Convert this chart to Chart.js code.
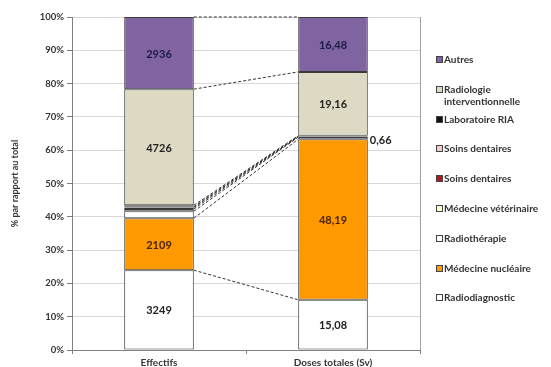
<!DOCTYPE html>
<html lang="fr">
<head>
<meta charset="utf-8">
<script src="https://cdn.jsdelivr.net/npm/chart.js@4/dist/chart.umd.min.js"></script>
<style>
  html, body { margin: 0; padding: 0; background: #fff; overflow: hidden; }
  #wrap { position: relative; width: 551px; height: 375px; }
  #legend { position: absolute; left: 0; top: 0; width: 551px; height: 367px; pointer-events: none;
            font-family: Lato, "Open Sans", sans-serif; font-weight: bold; font-size: 10px; color: #333; }
  .item { position: absolute; left: 436px; width: 112px; line-height: 12px; }
  .box { position: absolute; left: 0; top: 3px; width: 5px; height: 5px; border: 1px solid #444; }
  .txt { position: absolute; left: 8px; width: 105px; white-space: normal; }
</style>
</head>
<body>
<div id="wrap">
  <canvas id="c" width="551" height="375"></canvas>
  <div id="legend"></div>
</div>
<script>
// Categories (two stacked bars) and series, listed from the bottom of each stack upward
const categories = ['Effectifs', 'Doses totales (Sv)'];
const seriesNames = [
  'Radiodiagnostic', 'Médecine nucléaire', 'Radiothérapie', 'Médecine vétérinaire',
  'Soins dentaires', 'Soins dentaires', 'Laboratoire RIA',
  'Radiologie interventionnelle', 'Autres'
];
const seriesColors = [
  '#FFFFFF', '#FF9900', '#FFFFFF', '#FFFFCC',
  '#B0181F', '#F4CCCC', '#111111',
  '#DDD9C3', '#8064A2'
];
// Workers per sector
const effectifs = [3249, 2109, 289, 90, 60, 30, 60, 4726, 2936];
// Total doses per sector (Sv)
const dosesTotales = [15.08, 48.19, 0.66, 0.05, 0.15, 0.12, 0.10, 19.16, 16.48];
// Percent axis ticks
const yTicks = [0, 10, 20, 30, 40, 50, 60, 70, 80, 90, 100];

// Which values get a label inside the bar / beside it
const labelInside = [
  [true, true, false, false, false, false, false, true, true],
  [true, true, false, false, false, false, false, true, true]
];
const labelBeside = [
  [false, false, false, false, false, false, false, false, false],
  [false, false, true, false, false, false, false, false, false]
];
const labelColors = ['#222', '#4a2200', '#222', '#222', '#222', '#222', '#222', '#222', '#1d1a45'];

const sumOf = arr => arr.reduce((a, b) => a + b, 0);
const totEff = sumOf(effectifs);
const totDose = sumOf(dosesTotales);
const rawValues = [effectifs, dosesTotales];

const datasets = seriesNames.map((name, i) => ({
  label: name,
  data: [effectifs[i] / totEff * 100, dosesTotales[i] / totDose * 100],
  backgroundColor: seriesColors[i],
  borderColor: '#3a3a3a',
  borderWidth: 1,
  borderSkipped: false,
  barPercentage: 0.4,
  categoryPercentage: 1.0
}));

const fmt = v => (Number.isInteger(v) ? String(v) : v.toFixed(2).replace('.', ','));

// Dashed series lines joining each segment top from one bar to the next
const seriesLines = {
  id: 'seriesLines',
  afterDatasetsDraw(chart) {
    const ctx = chart.ctx;
    ctx.save();
    ctx.strokeStyle = '#333';
    ctx.lineWidth = 1;
    ctx.setLineDash([3, 2]);
    chart.data.datasets.forEach((ds, i) => {
      const meta = chart.getDatasetMeta(i);
      const a = meta.data[0], b = meta.data[1];
      ctx.beginPath();
      ctx.moveTo(a.x + a.width / 2, a.y);
      ctx.lineTo(b.x - b.width / 2, b.y);
      ctx.stroke();
    });
    ctx.restore();
  }
};

// Right-hand frame line of the plot area
const plotFrame = {
  id: 'plotFrame',
  beforeDatasetsDraw(chart) {
    const { ctx, chartArea } = chart;
    ctx.save();
    ctx.strokeStyle = '#a0a0a0';
    ctx.lineWidth = 1;
    ctx.beginPath();
    ctx.moveTo(Math.round(chartArea.right) + 0.5, chartArea.top);
    ctx.lineTo(Math.round(chartArea.right) + 0.5, chartArea.bottom);
    ctx.stroke();
    ctx.restore();
  }
};

// Value labels drawn from the raw values
const valueLabels = {
  id: 'valueLabels',
  afterDatasetsDraw(chart) {
    const ctx = chart.ctx;
    ctx.save();
    ctx.font = 'bold 11px Lato, "Open Sans", sans-serif';
    ctx.textBaseline = 'middle';
    chart.data.datasets.forEach((ds, i) => {
      const meta = chart.getDatasetMeta(i);
      meta.data.forEach((bar, j) => {
        const v = rawValues[j][i];
        const cy = (bar.y + bar.base) / 2;
        if (labelInside[j][i]) {
          ctx.fillStyle = labelColors[i];
          ctx.textAlign = 'center';
          ctx.fillText(fmt(v), bar.x, cy + 1);
        } else if (labelBeside[j][i]) {
          ctx.fillStyle = '#222';
          ctx.textAlign = 'left';
          ctx.fillText(fmt(v), bar.x + bar.width / 2 + 2, cy + 2);
        }
      });
    });
    ctx.restore();
  }
};

new Chart(document.getElementById('c'), {
  type: 'bar',
  data: { labels: categories, datasets },
  options: {
    responsive: false,
    animation: false,
    devicePixelRatio: 1,
    layout: { padding: { left: 0, right: 131, top: 17, bottom: 0 } },
    plugins: { legend: { display: false }, tooltip: { enabled: false } },
    scales: {
      x: {
        stacked: true,
        afterFit(scale) { scale.height = 25; },
        grid: { drawOnChartArea: false, drawTicks: true, tickLength: 4, color: '#808080' },
        border: { color: '#808080' },
        ticks: { padding: 3, color: '#333', font: { family: 'Lato, "Open Sans", sans-serif', size: 10, weight: 'bold' } }
      },
      y: {
        stacked: true,
        min: 0,
        max: 100,
        afterFit(scale) { scale.width = 72; },
        afterBuildTicks(scale) { scale.ticks = yTicks.map(v => ({ value: v })); },
        grid: { color: '#d9d9d9', tickLength: 5, tickColor: '#808080' },
        border: { color: '#808080' },
        ticks: {
          padding: 3,
          color: '#333',
          font: { family: 'Lato, "Open Sans", sans-serif', size: 9.5, weight: 'bold' },
          callback: v => v + '%'
        },
        title: {
          display: true,
          text: '% par rapport au total',
          color: '#333',
          padding: { top: 10, bottom: 0 },
          font: { family: 'Lato, "Open Sans", sans-serif', size: 9, weight: 'bold' }
        }
      }
    }
  },
  plugins: [plotFrame, seriesLines, valueLabels]
});

// Legend on the right, top entry = top of the stack
const legend = document.getElementById('legend');
const order = seriesNames.map((_, i) => i).reverse();
order.forEach((idx, k) => {
  const item = document.createElement('div');
  item.className = 'item';
  item.style.top = (53 + k * 29.8) + 'px';
  const box = document.createElement('span');
  box.className = 'box';
  box.style.background = seriesColors[idx];
  const txt = document.createElement('span');
  txt.className = 'txt';
  txt.textContent = seriesNames[idx];
  item.appendChild(box);
  item.appendChild(txt);
  legend.appendChild(item);
});
</script>
</body>
</html>
